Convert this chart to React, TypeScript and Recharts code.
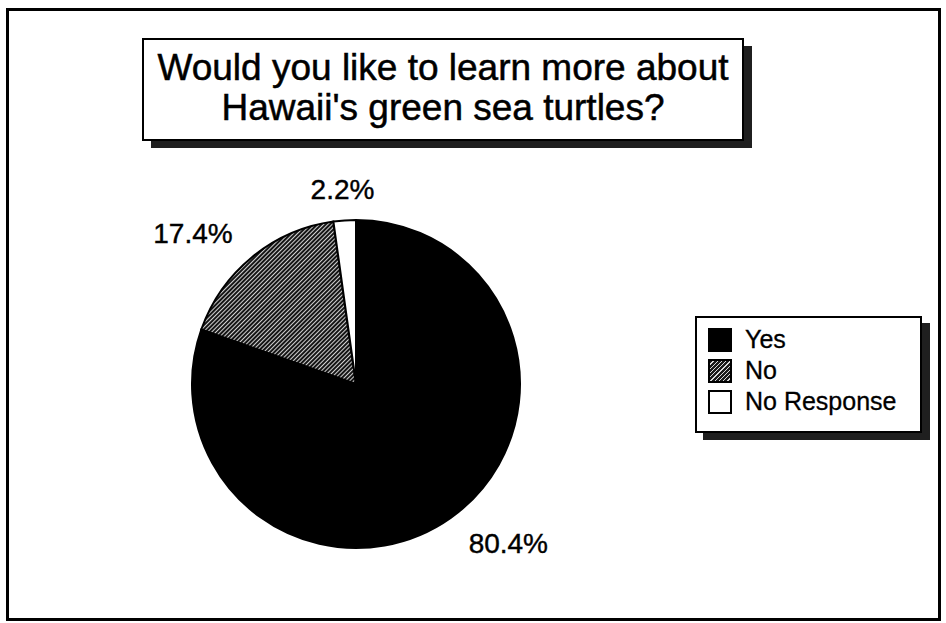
import React from 'react';
import { Cell, Legend, Pie, PieChart } from 'recharts';

const categories = ['Yes', 'No', 'No Response'];
const percents = [80.4, 17.4, 2.2];
const fills = ['#000000', 'url(#hatchNo)', '#ffffff'];
const titleLines = ['Would you like to learn more about', "Hawaii's green sea turtles?"];

const data = categories.map((name, i) => ({ name, value: percents[i] }));

const FONT = '"Liberation Sans", Arial, Helvetica, sans-serif';
const RADIAN = Math.PI / 180;
const W = 946;
const H = 623;

const renderLabel = (props: any) => {
  const { cx, cy, midAngle, outerRadius, value } = props;
  const r = outerRadius + 31;
  const cos = Math.cos(-midAngle * RADIAN);
  const sin = Math.sin(-midAngle * RADIAN);
  const x = cx + r * cos;
  const y = cy + r * sin;
  const anchor = Math.abs(cos) < 0.3 ? 'middle' : cos > 0 ? 'start' : 'end';
  return (
    <text
      x={x}
      y={y + 10}
      textAnchor={anchor}
      fill="#000"
      fontSize={28}
      fontFamily={FONT}
      stroke="#000"
      strokeWidth={0.4}
    >
      {`${value.toFixed(1)}%`}
    </text>
  );
};

const swatchStyle = (i: number): React.CSSProperties => {
  const base: React.CSSProperties = {
    width: 20,
    height: 20,
    border: '2px solid #000',
    marginRight: 13,
    flex: 'none',
  };
  if (i === 0) return { ...base, background: '#000' };
  if (i === 1)
    return {
      ...base,
      background: 'repeating-linear-gradient(135deg, #1a1a1a 0 2px, #d8d8d8 2px 3px)',
    };
  return { ...base, background: '#fff' };
};

const LegendBox = ({ payload }: any) => {
  const items = [...(payload || [])].sort(
    (a: any, b: any) => categories.indexOf(a.value) - categories.indexOf(b.value)
  );
  return (
    <div
      style={{
        boxSizing: 'border-box',
        width: 227,
        height: 117,
        border: '2px solid #000',
        background: '#fff',
        boxShadow: '8px 7px 0 #1f1f1f',
        paddingTop: 6,
        paddingLeft: 11,
        fontFamily: FONT,
      }}
    >
      {items.map((entry: any, i: number) => (
        <div
          key={`leg-${i}`}
          style={{ display: 'flex', alignItems: 'center', height: 31, fontSize: 25, color: '#000' }}
        >
          <span style={swatchStyle(categories.indexOf(entry.value))} />
          <span style={{ WebkitTextStroke: '0.3px #000' }}>{entry.value}</span>
        </div>
      ))}
    </div>
  );
};

export default function App() {
  return (
    <div
      style={{
        position: 'absolute',
        left: 0,
        top: 0,
        width: W,
        height: H,
        background: '#fff',
        overflow: 'hidden',
      }}
    >
      <svg width={W} height={H} style={{ position: 'absolute', left: 0, top: 0 }}>
        <defs>
          <pattern
            id="hatchNo"
            patternUnits="userSpaceOnUse"
            width={3}
            height={3}
            patternTransform="rotate(45)"
          >
            <rect width={3} height={3} fill="#151515" />
            <line x1={0.5} y1={0} x2={0.5} y2={3} stroke="#d0d0d0" strokeWidth={1} />
          </pattern>
        </defs>
        {/* outer frame */}
        <rect x={7.5} y={9.5} width={932} height={610} fill="none" stroke="#000" strokeWidth={3} />
        {/* title box with drop shadow */}
        <rect x={151} y={46} width={601} height={102} fill="#1f1f1f" />
        <rect x={143} y={39} width={600} height={101} fill="#fff" stroke="#000" strokeWidth={2} />
        {titleLines.map((line, i) => (
          <text
            key={line}
            x={443}
            y={80 + i * 40}
            textAnchor="middle"
            fontSize={37}
            fontFamily={FONT}
            fill="#000"
            stroke="#000"
            strokeWidth={0.5}
          >
            {line}
          </text>
        ))}
      </svg>
      <div style={{ position: 'absolute', left: 0, top: 0 }}>
        <PieChart width={W} height={H} margin={{ top: 0, right: 0, bottom: 0, left: 0 }}>
          <Pie
            data={data}
            dataKey="value"
            nameKey="name"
            cx={356}
            cy={384}
            outerRadius={164}
            startAngle={90}
            endAngle={-270}
            stroke="#000"
            strokeWidth={2}
            label={renderLabel}
            labelLine={false}
            isAnimationActive={false}
          >
            {data.map((entry, i) => (
              <Cell key={entry.name} fill={fills[i]} stroke="#000" strokeWidth={2} />
            ))}
          </Pie>
          <Legend
            layout="vertical"
            content={<LegendBox />}
            wrapperStyle={{ left: 695, top: 316, width: 227, height: 117, right: 'auto', bottom: 'auto' }}
          />
        </PieChart>
      </div>
    </div>
  );
}
